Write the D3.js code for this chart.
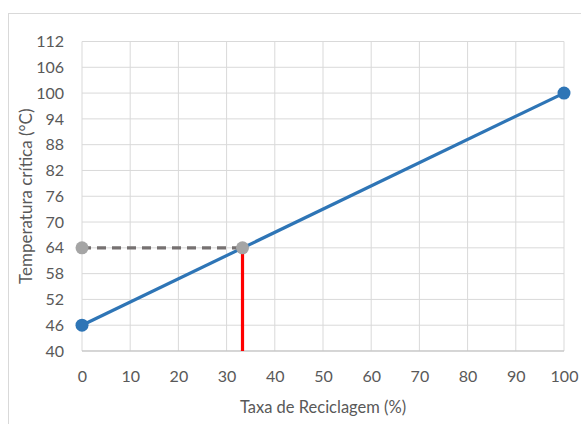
<!DOCTYPE html>
<html><head><meta charset="utf-8">
<script src="https://cdn.jsdelivr.net/npm/d3@7"></script>
<style>body{margin:0;background:#fff;} text{font-family:Lato,"Open Sans",sans-serif;fill:#595959;}</style>
</head><body><svg id="c" width="581" height="424"></svg>
<script>
const xTicks = [0,10,20,30,40,50,60,70,80,90,100];
const yTicks = [40,46,52,58,64,70,76,82,88,94,100,106,112];
const lineX = [0,100];
const lineY = [46,100];
const refX = [0,33.3];
const refY = [64,64];
const dropX = [33.3,33.3];
const dropY = [64,40];

const svg = d3.select("#c");
const L=82,R=564,T=41.5,B=351;
const x = d3.scaleLinear().domain([0,100]).range([L,R]);
const y = d3.scaleLinear().domain([40,112]).range([B,T]);

svg.append("rect").attr("x",8.5).attr("y",13.5).attr("width",600).attr("height",450)
  .attr("fill","none").attr("stroke","#d9d9d9").attr("stroke-width",1);

const g = svg.append("g");
g.selectAll(".gx").data(xTicks).join("line").attr("x1",d=>x(d)).attr("x2",d=>x(d))
  .attr("y1",T).attr("y2",B).attr("stroke","#d9d9d9").attr("stroke-width",1);
g.selectAll(".gy").data(yTicks).join("line").attr("y1",d=>y(d)).attr("y2",d=>y(d))
  .attr("x1",L).attr("x2",R).attr("stroke","#d9d9d9").attr("stroke-width",1);
g.append("line").attr("x1",L).attr("x2",R).attr("y1",B).attr("y2",B).attr("stroke","#bfbfbf").attr("stroke-width",1);

const xa = svg.append("g").attr("transform",`translate(0,${B})`)
  .call(d3.axisBottom(x).tickValues(xTicks).tickSize(0).tickPadding(20));
xa.select(".domain").remove();
xa.selectAll("text").attr("font-size",16).style("font-family","Lato,'Open Sans',sans-serif").attr("fill","#595959");
const ya = svg.append("g").attr("transform",`translate(${L},0)`)
  .call(d3.axisLeft(y).tickValues(yTicks).tickSize(0).tickPadding(18));
ya.select(".domain").remove();
ya.selectAll("text").attr("font-size",16).style("font-family","Lato,'Open Sans',sans-serif").attr("fill","#595959");

const ln = d3.line().x(d=>x(d[0])).y(d=>y(d[1]));
svg.append("path").attr("d",ln(lineX.map((v,i)=>[v,lineY[i]]))).attr("fill","none")
  .attr("stroke","#2e75b6").attr("stroke-width",3.2);
svg.append("path").attr("d",ln(refX.map((v,i)=>[v,refY[i]]))).attr("fill","none")
  .attr("stroke","#767171").attr("stroke-width",3.2).attr("stroke-dasharray","9,6");
svg.append("path").attr("d",ln(dropX.map((v,i)=>[v,dropY[i]]))).attr("fill","none")
  .attr("stroke","#ff0000").attr("stroke-width",3.2);
svg.selectAll(".rp").data(refX.map((v,i)=>[v,refY[i]])).join("circle")
  .attr("cx",d=>x(d[0])).attr("cy",d=>y(d[1])).attr("r",6.5).attr("fill","#a5a5a5");
svg.selectAll(".bp").data(lineX.map((v,i)=>[v,lineY[i]])).join("circle")
  .attr("cx",d=>x(d[0])).attr("cy",d=>y(d[1])).attr("r",6.5).attr("fill","#2e75b6");

svg.append("text").attr("x",(L+R)/2).attr("y",413).attr("text-anchor","middle").attr("font-size",16.5).text("Taxa de Reciclagem (%)");
svg.append("text").attr("transform",`translate(32,${(T+B)/2}) rotate(-90)`).attr("text-anchor","middle").attr("font-size",17).text("Temperatura crítica (°C)");
</script></body></html>
